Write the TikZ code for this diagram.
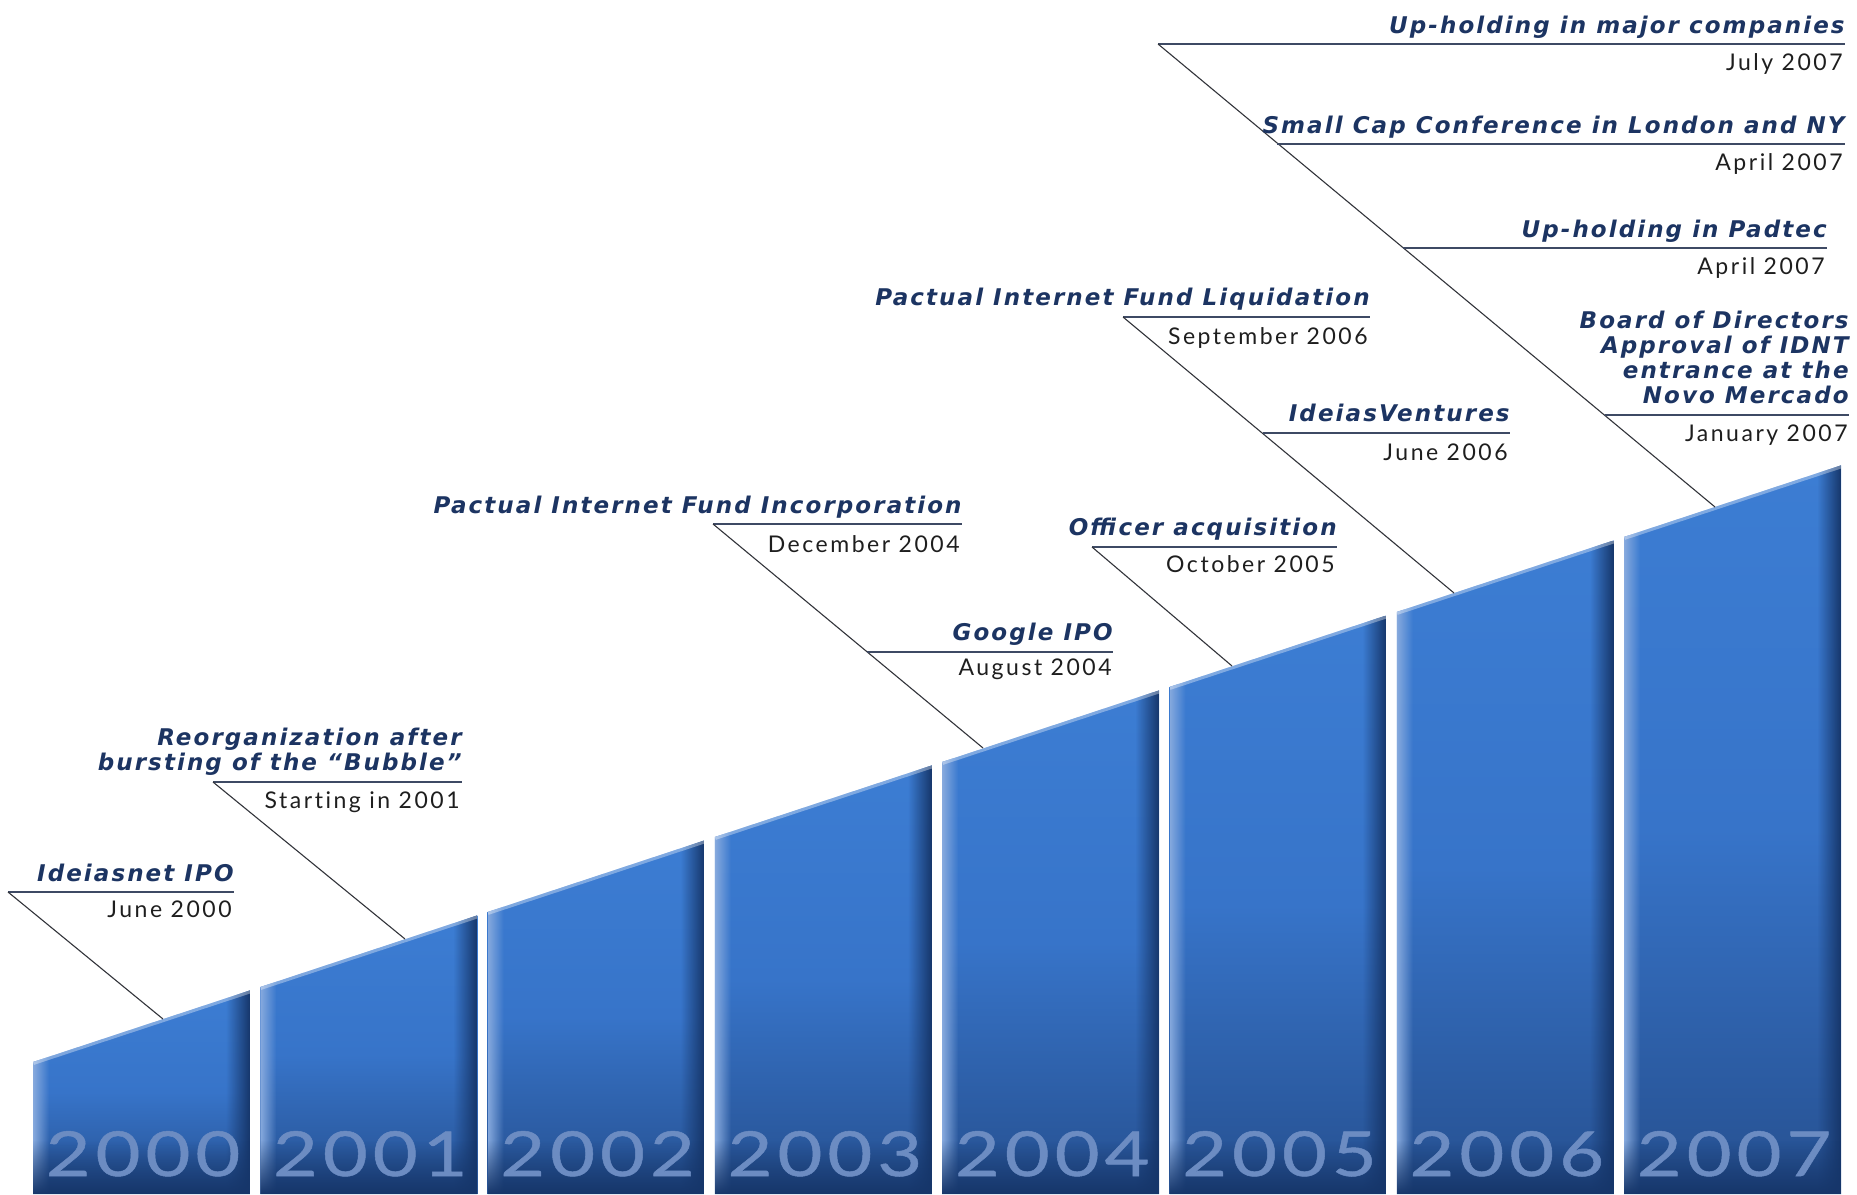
\documentclass[tikz,border=0pt]{standalone}
\usepackage{fontspec}
\setmainfont{Lato}
\newfontfamily\titulofont[LetterSpace=9]{DejaVu Sans}
\newfontfamily\fechafont[LetterSpace=11,Ligatures=NoCommon]{Lato}
\newfontfamily\aniofont[FakeStretch=1.25,LetterSpace=8,FakeBold=0.8]{Lato}
\usetikzlibrary{fadings}

\definecolor{azulTitulo}{RGB}{28,52,98}
\definecolor{grisFecha}{RGB}{30,30,30}
\definecolor{grisRegla}{RGB}{62,74,100}
\definecolor{grisGuia}{RGB}{50,52,58}
\definecolor{barraAlta}{RGB}{60,125,211}
\definecolor{barraMedia}{RGB}{55,116,201}
\definecolor{barraBaja}{RGB}{38,80,144}
\definecolor{barraBorde}{RGB}{22,54,106}
\definecolor{barraBrillo}{RGB}{135,170,222}
\definecolor{azulAnio}{RGB}{108,140,194}

% Bordes de las barras
\tikzfading[name=haciaderecha, left color=transparent!100, right color=transparent!0]
\tikzfading[name=haciaizquierda, left color=transparent!0, right color=transparent!100]
\tikzfading[name=haciaabajo, top color=transparent!100, bottom color=transparent!0]

\begin{document}
\begin{tikzpicture}[x=0.5pt, y=-0.5pt,
    titulo/.style={font=\titulofont\fontsize{11.5}{12.5}\selectfont\bfseries\itshape,
        text=azulTitulo, inner sep=0pt, anchor=base east, align=right},
    fecha/.style={font=\fechafont\fontsize{11.5}{13}\selectfont,
        text=grisFecha, inner sep=0pt, anchor=base east},
    regla/.style={grisRegla, line width=1pt},
    guia/.style={grisGuia, line width=0.55pt},
    anio/.style={font=\aniofont\fontsize{31}{31}\selectfont, text=azulAnio,
        inner sep=0pt, anchor=base}]
    \useasboundingbox (0,0) rectangle (1857,1194);

    % Barras por año (tope sobre la recta y = 1062 - 0.33 (x - 33))
    \foreach \anio [count=\i from 0] in {2000,...,2007}{
        \pgfmathsetmacro\xa{33+227.3*\i}
        \pgfmathsetmacro\xb{\xa+217}
        \pgfmathsetmacro\ya{1062-0.33*(\xa-33)}
        \pgfmathsetmacro\yb{1062-0.33*(\xb-33)}
        \begin{scope}
            \clip (\xa,\ya) -- (\xb,\yb) -- (\xb,1194) -- (\xa,1194) -- cycle;
            \shade[top color=barraAlta, bottom color=barraBaja, middle color=barraMedia]
                (\xa,\yb) rectangle (\xb,1194);
            \fill[barraBorde, path fading=haciaderecha] (\xb-24,\yb) rectangle (\xb,1194);
            \fill[barraBrillo, path fading=haciaizquierda] (\xa,\yb) rectangle (\xa+16,1194);
            \fill[barraBorde, path fading=haciaabajo] (\xa,1140) rectangle (\xb,1194);
            \draw[white, opacity=.35, line width=3pt] (\xa,\ya) -- (\xb,\yb);
        \end{scope}
        \node[anio] (b\anio) at ({\xa+110},1176) {\anio};
    }

    % Puntos de llegada sobre las barras
    \coordinate (ipoB)  at (163,1019);
    \coordinate (reoB)  at (405,939);
    \coordinate (incB)  at (983,748);
    \coordinate (offB)  at (1232,666);
    \coordinate (liqB)  at (1454,593);
    \coordinate (majB)  at (1715,507);

    % 2000
    \coordinate (ipoS) at (8,892);
    \node[titulo] (ipoT) at (234,881) {Ideiasnet IPO};
    \node[fecha]  (ipoF) at (232,917) {June 2000};
    \draw[regla] (ipoS) -- (ipoS -| ipoT.east);
    \draw[guia]  (ipoS) -- (ipoB);

    % 2001
    \coordinate (reoS) at (213,782);
    \node[titulo] (reoT) at (462,770) {Reorganization after\\bursting of the “Bubble”};
    \node[fecha]  (reoF) at (460,808) {Starting in 2001};
    \draw[regla] (reoS) -- (reoS -| reoT.east);
    \draw[guia]  (reoS) -- (reoB);

    % 2004
    \coordinate (incS) at (713,524);
    \node[titulo] (incT) at (962,513) {Pactual Internet Fund Incorporation};
    \node[fecha]  (incF) at (960,552) {December 2004};
    \draw[regla] (incS) -- (incS -| incT.east);
    \draw[guia]  (incS) -- (incB);

    \coordinate (gooS) at (867,652);
    \node[titulo] (gooT) at (1113,640) {Google IPO};
    \node[fecha]  (gooF) at (1112,675) {August 2004};
    \draw[regla] (gooS) -- (gooS -| gooT.east);

    % 2005
    \coordinate (offS) at (1092,547);
    \node[titulo] (offT) at (1337,535) {Officer acquisition};
    \node[fecha]  (offF) at (1335,572) {October 2005};
    \draw[regla] (offS) -- (offS -| offT.east);
    \draw[guia]  (offS) -- (offB);

    % 2006
    \coordinate (liqS) at (1123,317);
    \node[titulo] (liqT) at (1370,305) {Pactual Internet Fund Liquidation};
    \node[fecha]  (liqF) at (1368,344) {September 2006};
    \draw[regla] (liqS) -- (liqS -| liqT.east);
    \draw[guia]  (liqS) -- (liqB);

    \coordinate (venS) at (1263,433);
    \node[titulo] (venT) at (1510,421) {IdeiasVentures};
    \node[fecha]  (venF) at (1508,460) {June 2006};
    \draw[regla] (venS) -- (venS -| venT.east);

    % 2007
    \coordinate (majS) at (1158,44);
    \node[titulo] (majT) at (1845,33) {Up-holding in major companies};
    \node[fecha]  (majF) at (1843,70) {July 2007};
    \draw[regla] (majS) -- (majS -| majT.east);
    \draw[guia]  (majS) -- (majB);

    \coordinate (capS) at (1277,144);
    \node[titulo] (capT) at (1845,133) {Small Cap Conference in London and NY};
    \node[fecha]  (capF) at (1843,170) {April 2007};
    \draw[regla] (capS) -- (capS -| capT.east);

    \coordinate (padS) at (1403,248);
    \node[titulo] (padT) at (1827,237) {Up-holding in Padtec};
    \node[fecha]  (padF) at (1825,274) {April 2007};
    \draw[regla] (padS) -- (padS -| padT.east);

    \coordinate (bodS) at (1605,415);
    \node[titulo] (bodT) at (1849,403)
        {Board of Directors\\Approval of IDNT\\entrance at the\\Novo Mercado};
    \node[fecha]  (bodF) at (1848,441) {January 2007};
    \draw[regla] (bodS) -- (bodS -| bodT.east);
\end{tikzpicture}
\end{document}
